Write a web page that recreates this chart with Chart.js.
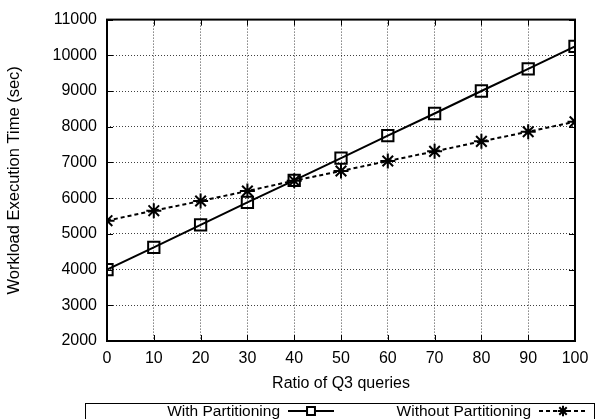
<!DOCTYPE html>
<html>
<head>
<meta charset="utf-8">
<script src="https://cdn.jsdelivr.net/npm/chart.js@4/dist/chart.umd.min.js"></script>
<style>
  html, body { margin: 0; padding: 0; background: #fff; }
  #wrap { width: 605px; height: 419px; position: relative; }
</style>
</head>
<body>
<div id="wrap"><canvas id="c"></canvas></div>
<script>
// ---- data ----
const ratios = [0, 10, 20, 30, 40, 50, 60, 70, 80, 90, 100];
const withPartitioning = [4000, 4620, 5250, 5880, 6500, 7120, 7750, 8370, 9000, 9620, 10250];
const withoutPartitioning = [5370, 5650, 5920, 6200, 6490, 6760, 7040, 7310, 7590, 7860, 8140];
const seriesNames = ['With Partitioning', 'Without Partitioning'];
const xTitle = 'Ratio of Q3 queries';
const yTitle = 'Workload Execution Time (sec)';

const FONT = 'Liberation Sans, Arial, Helvetica, sans-serif';

const toPts = (vals) => ratios.map((x, i) => ({ x: x, y: vals[i] }));

const framePlugin = {
  id: 'frame',
  afterDatasetsDraw(chart) {
    const ctx = chart.ctx;
    const a = chart.chartArea;
    const xs = chart.scales.x, ys = chart.scales.y;
    ctx.save();
    ctx.strokeStyle = '#000';
    ctx.lineWidth = 1;
    const tl = 6;
    ctx.beginPath();
    ys.ticks.forEach(t => {
      const y = Math.round(ys.getPixelForValue(t.value)) + 0.5;
      ctx.moveTo(a.left, y); ctx.lineTo(a.left + tl, y);
      ctx.moveTo(a.right, y); ctx.lineTo(a.right - tl, y);
    });
    xs.ticks.forEach(t => {
      const x = Math.round(xs.getPixelForValue(t.value)) + 0.5;
      ctx.moveTo(x, a.bottom); ctx.lineTo(x, a.bottom - tl);
      ctx.moveTo(x, a.top); ctx.lineTo(x, a.top + tl);
    });
    ctx.stroke();
    ctx.lineWidth = 2;
    ctx.strokeRect(a.left, a.top, a.right - a.left, a.bottom - a.top);
    ctx.restore();
  },
  afterDraw(chart) {
    const ctx = chart.ctx;
    const ds = chart.data.datasets;
    ctx.save();
    ctx.strokeStyle = '#000';
    ctx.lineWidth = 1;
    ctx.strokeRect(85.5, 403.5, 509, 30);
    ctx.font = '15.5px ' + FONT;
    ctx.textAlign = 'right';
    ctx.textBaseline = 'middle';
    const ly = 411;
    const cols = [{ textRight: 280, s0: 288, s1: 334 }, { textRight: 531, s0: 539, s1: 587 }];
    ds.forEach((d, i) => {
      const c = cols[i];
      ctx.fillStyle = '#000';
      ctx.fillText(d.label, c.textRight, ly + 1);
      ctx.save();
      ctx.lineWidth = 2;
      ctx.setLineDash(d.borderDash || []);
      ctx.beginPath();
      ctx.moveTo(c.s0, ly); ctx.lineTo(c.s1, ly);
      ctx.stroke();
      ctx.restore();
      ctx.lineWidth = 2;
      ctx.fillStyle = '#fff';
      Chart.helpers.drawPoint(ctx, {
        pointStyle: d.pointStyle,
        radius: d.pointRadius * 0.7,
        borderWidth: 2
      }, (c.s0 + c.s1) / 2, ly);
    });
    ctx.restore();
  }
};

new Chart(document.getElementById('c'), {
  type: 'line',
  data: {
    datasets: [
      {
        label: seriesNames[0],
        data: toPts(withPartitioning),
        borderColor: '#000',
        borderWidth: 2,
        backgroundColor: 'rgba(0,0,0,0)',
        pointStyle: 'rect',
        pointRadius: 8,
        pointBorderWidth: 2,
        pointBorderColor: '#000',
        pointBackgroundColor: 'rgba(0,0,0,0)',
        tension: 0
      },
      {
        label: seriesNames[1],
        data: toPts(withoutPartitioning),
        borderColor: '#000',
        borderWidth: 2,
        borderDash: [4, 3],
        backgroundColor: 'rgba(0,0,0,0)',
        pointStyle: 'star',
        pointRadius: 7.5,
        pointBorderWidth: 2,
        pointBorderColor: '#000',
        pointBackgroundColor: 'rgba(0,0,0,0)',
        tension: 0
      }
    ]
  },
  options: {
    responsive: true,
    maintainAspectRatio: false,
    animation: false,
    layout: { padding: { top: 17, right: 30, bottom: 26, left: 0 } },
    plugins: {
      legend: { display: false },
      tooltip: { enabled: false }
    },
    scales: {
      x: {
        type: 'linear',
        min: 0, max: 100,
        ticks: { stepSize: 10, padding: 8, color: '#000', font: { family: FONT, size: 16 }, callback: v => String(v) },
        grid: { color: 'rgba(0,0,0,0.75)', drawTicks: false },
        border: { display: false, dash: [1, 2] },
        title: { display: true, text: xTitle, color: '#000', font: { family: FONT, size: 16 }, padding: { top: 0, bottom: 0 } },
        afterFit(s) { s.height = 52; }
      },
      y: {
        type: 'linear',
        min: 2000, max: 11000,
        ticks: { stepSize: 1000, padding: 10, color: '#000', font: { family: FONT, size: 16 }, callback: v => String(v) },
        grid: { color: 'rgba(0,0,0,0.75)', drawTicks: false },
        border: { display: false, dash: [1, 2] },
        title: { display: true, text: yTitle, color: '#000', font: { family: FONT, size: 16.5 }, padding: { top: 5, bottom: 0 } },
        afterFit(s) { s.width = 107; }
      }
    }
  },
  plugins: [framePlugin]
});
</script>
</body>
</html>
